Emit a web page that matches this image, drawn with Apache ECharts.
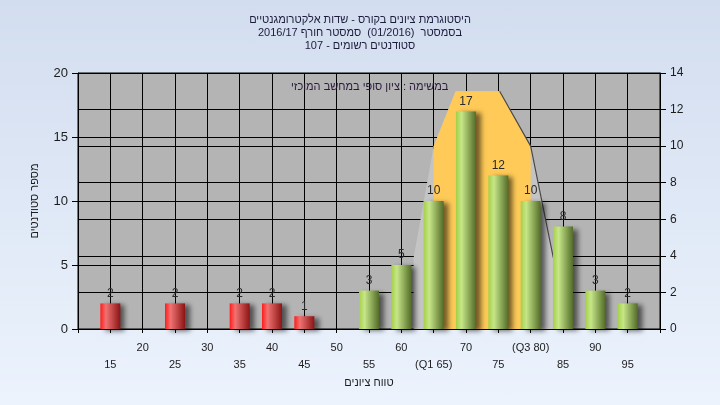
<!DOCTYPE html>
<html><head><meta charset="utf-8">
<script src="https://cdn.jsdelivr.net/npm/echarts@6/dist/echarts.min.js"></script>
<style>html,body{margin:0;padding:0;}#c{width:720px;height:405px;background:linear-gradient(#d2ddef,#ecf3fd);}</style>
</head><body><div id="c"></div>
<script>
const titleLines = ['היסטוגרמת ציונים בקורס - שדות אלקטרומגנטיים', 'בסמסטר  (01/2016)  סמסטר חורף 2016/17', 'סטודנטים רשומים - 107'];
const noteText = 'במשימה : ציון סופי במחשב המוכזי';
const yAxisName = 'מספר סטודנטים';
const xAxisName = 'טווח ציונים';
const failScores = [15, 25, 35, 40, 45];
const failCounts = [2, 2, 2, 2, 1];
const passScores = [55, 60, 65, 70, 75, 80, 85, 90, 95];
const passCounts = [3, 5, 10, 17, 12, 10, 8, 3, 2];
const tickValues = [15, 20, 25, 30, 35, 40, 45, 50, 55, 60, 65, 70, 75, 80, 85, 90, 95];
const tickLabels = ['15', '20', '25', '30', '35', '40', '45', '50', '55', '60', '(Q1 65)', '70', '75', '(Q3 80)', '85', '90', '95'];
const curveX = [61.9, 61.9, 65, 68.4, 75.2, 80, 83.5, 83.5];
const curveY = [0, 3.9, 10, 13, 13, 10, 3.9, 0];
const iqrX = [65, 65, 68.4, 75.2, 80, 80];
const iqrY = [0, 10, 13, 13, 10, 0];

const pairs = (xs, ys) => xs.map((x, i) => [x, ys[i]]);
const FONT = '"Liberation Sans", Arial, sans-serif';

const chart = echarts.init(document.getElementById('c'), null, {renderer: 'canvas'});
const grad = (a, b, c) => new echarts.graphic.LinearGradient(0, 0, 1, 0, [
  {offset: 0, color: a}, {offset: 0.28, color: b}, {offset: 1, color: c}]);
const barCommon = {
  type: 'bar', yAxisIndex: 0, barWidth: 20, barGap: '-100%', z: 5,
  label: {show: true, position: 'top', distance: 4, color: '#2a2a2a', fontSize: 12, fontFamily: FONT},
};
chart.setOption({
  animation: false,
  textStyle: {fontFamily: FONT},
  title: {
    text: titleLines.join('\n'), left: 'center', top: 8,
    textStyle: {fontSize: 11, fontWeight: 'normal', lineHeight: 13, color: '#1c1c3c', fontFamily: FONT}
  },
  grid: {left: 78, right: 60, top: 73, bottom: 76, show: true, backgroundColor: '#b4b4b4', borderColor: '#000', borderWidth: 1},
  xAxis: {
    type: 'value', min: 10, max: 100, interval: 5,
    name: xAxisName, nameLocation: 'middle', nameGap: 46,
    nameTextStyle: {fontSize: 11, color: '#1c1c1c', fontFamily: FONT},
    axisLine: {lineStyle: {color: '#000'}},
    axisTick: {length: 4, lineStyle: {color: '#000'}},
    splitLine: {show: true, lineStyle: {color: '#000', width: 1}},
    axisLabel: {
      margin: 10, fontSize: 11, color: '#1c1c1c', lineHeight: 17, fontFamily: FONT,
      formatter: v => {
        const i = tickValues.indexOf(v);
        if (i < 0) return '';
        return (v % 10 === 0 ? '' : '\n') + tickLabels[i];
      }
    }
  },
  yAxis: [{
    type: 'value', min: 0, max: 20, interval: 5, position: 'left',
    name: yAxisName, nameLocation: 'middle', nameGap: 38, nameRotate: 90,
    nameTextStyle: {fontSize: 11, color: '#1c1c1c', fontFamily: FONT},
    axisLine: {show: true, lineStyle: {color: '#000'}},
    axisTick: {show: true, length: 6, lineStyle: {color: '#000'}},
    splitLine: {show: true, lineStyle: {color: '#000', width: 1}},
    axisLabel: {margin: 10, fontSize: 13, color: '#1c1c1c', fontFamily: FONT}
  }, {
    type: 'value', min: 0, max: 14, interval: 2, position: 'right',
    axisLine: {show: true, lineStyle: {color: '#000'}},
    axisTick: {show: true, length: 6, lineStyle: {color: '#000'}},
    splitLine: {show: true, lineStyle: {color: '#000', width: 1}},
    axisLabel: {margin: 10, fontSize: 12, color: '#1c1c1c', fontFamily: FONT}
  }],
  graphic: [{
    type: 'text', left: 291, top: 81, z: 10,
    style: {text: noteText, fontSize: 11, fill: '#2a1a3a', fontFamily: FONT}
  }],
  series: [
    {type: 'line', yAxisIndex: 1, z: 2, data: pairs(curveX, curveY), symbol: 'none',
     lineStyle: {width: 0}, areaStyle: {color: '#c4c4c4', opacity: 1}},
    {type: 'line', yAxisIndex: 1, z: 3, data: pairs(iqrX, iqrY), symbol: 'none',
     lineStyle: {width: 0}, areaStyle: {color: '#ffca57', opacity: 1}},
    {type: 'line', yAxisIndex: 1, z: 4, data: pairs(curveX.slice(4, 7), curveY.slice(4, 7)), symbol: 'none',
     lineStyle: {width: 1.2, color: '#4a4a4a'}},
    Object.assign({}, barCommon, {
      data: pairs(failScores, failCounts),
      itemStyle: {color: grad('#ff1c1c', '#f07272', '#8c1414'), shadowColor: 'rgba(0,0,0,0.55)', shadowBlur: 5, shadowOffsetX: 5, shadowOffsetY: 2}
    }),
    Object.assign({}, barCommon, {
      data: pairs(passScores, passCounts),
      itemStyle: {color: grad('#a4d048', '#c6e688', '#536c28'), shadowColor: 'rgba(0,0,0,0.55)', shadowBlur: 5, shadowOffsetX: 5, shadowOffsetY: 2}
    })
  ]
});
</script></body></html>
